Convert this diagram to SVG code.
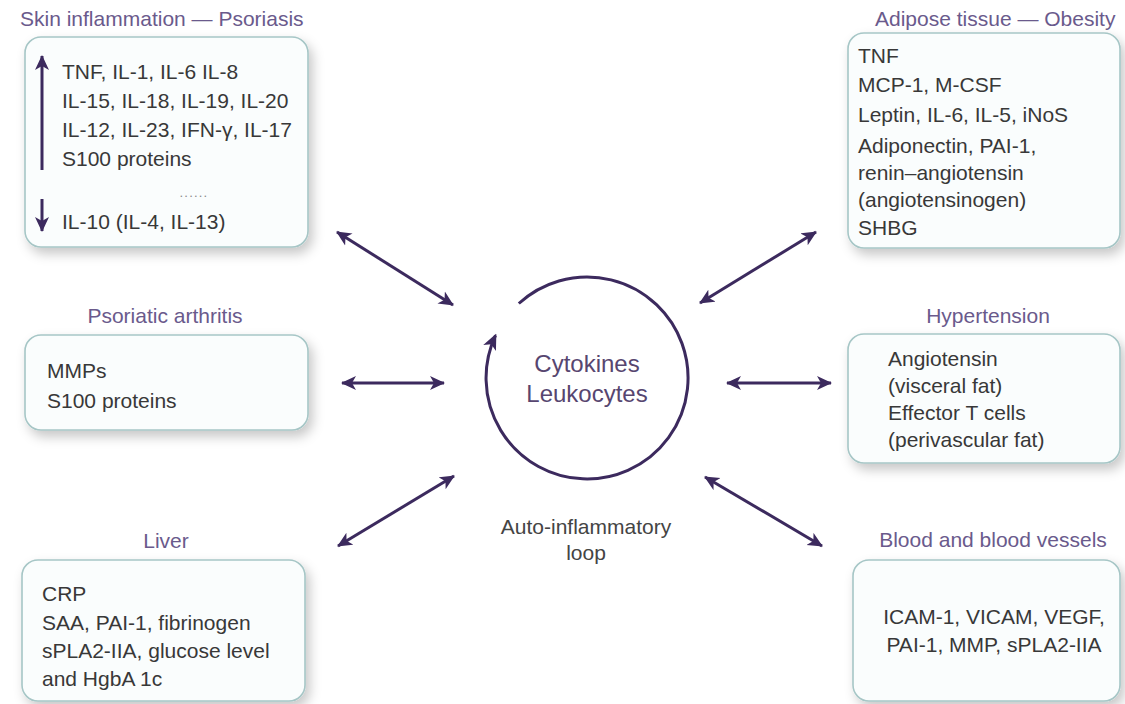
<svg xmlns="http://www.w3.org/2000/svg" width="1125" height="704" viewBox="0 0 1125 704">
<defs>
<style>
.box{fill:#fafdfd;stroke:#a6c6c6;stroke-width:1.6;filter:url(#sh)}
.title{font-family:"Liberation Sans",Arial,sans-serif;font-size:21px;fill:#6a5a8c}
.body{font-family:"Liberation Sans",Arial,sans-serif;font-size:21px;fill:#383838}
.center{font-family:"Liberation Sans",Arial,sans-serif;font-size:24px;fill:#574670}
.loop{font-family:"Liberation Sans",Arial,sans-serif;font-size:21px;fill:#444}
.conn{stroke:#3c2a5e;stroke-width:3;fill:none;marker-start:url(#ah);marker-end:url(#ah)}
.one{stroke:#3c2a5e;stroke-width:3;fill:none;marker-end:url(#ah)}
</style>
<filter id="sh" x="-10%" y="-10%" width="125%" height="135%">
<feDropShadow dx="4" dy="6" stdDeviation="6" flood-color="#000" flood-opacity="0.22"/>
</filter>
<marker id="ah" viewBox="0 0 15 15" refX="14" refY="7.5" markerWidth="15" markerHeight="15" markerUnits="userSpaceOnUse" orient="auto-start-reverse">
<path d="M0,0.5 L15,7.5 L0,14.5 L4,7.5 z" fill="#3c2a5e"/>
</marker>
<marker id="ah2" viewBox="0 0 16 16" refX="14" refY="8" markerWidth="16" markerHeight="16" markerUnits="userSpaceOnUse" orient="auto">
<path d="M0,1 L16,8 L0,15 L4,8 z" fill="#3c2a5e"/>
</marker>
</defs>
<rect width="1125" height="704" fill="#ffffff"/>

<g id="skin">
<text class="title" x="20" y="26">Skin inflammation — Psoriasis</text>
<rect class="box" x="25" y="37" width="283" height="210" rx="16"/>
<line class="one" x1="42" y1="170" x2="42" y2="56"/>
<line class="one" x1="42" y1="199" x2="42" y2="231"/>
<text class="body" x="62" y="79">TNF, IL-1, IL-6 IL-8</text>
<text class="body" x="62" y="108">IL-15, IL-18, IL-19, IL-20</text>
<text class="body" x="62" y="137">IL-12, IL-23, IFN-γ, IL-17</text>
<text class="body" x="62" y="166">S100 proteins</text>
<text x="194" y="197" text-anchor="middle" font-family="Liberation Sans, Arial, sans-serif" font-size="13" letter-spacing="1.2" fill="#888">......</text>
<text class="body" x="62" y="229">IL-10 (IL-4, IL-13)</text>
</g>

<g id="adipose">
<text class="title" x="875" y="26">Adipose tissue — Obesity</text>
<rect class="box" x="848" y="33" width="272" height="215" rx="16"/>
<text class="body" x="858" y="63">TNF</text>
<text class="body" x="858" y="92">MCP-1, M-CSF</text>
<text class="body" x="858" y="122">Leptin, IL-6, IL-5, iNoS</text>
<text class="body" x="858" y="153">Adiponectin, PAI-1,</text>
<text class="body" x="858" y="180">renin–angiotensin</text>
<text class="body" x="858" y="207">(angiotensinogen)</text>
<text class="body" x="858" y="235">SHBG</text>
</g>

<g id="arthritis">
<text class="title" x="165" y="323" text-anchor="middle">Psoriatic arthritis</text>
<rect class="box" x="25" y="335" width="283" height="95" rx="16"/>
<text class="body" x="47" y="378">MMPs</text>
<text class="body" x="47" y="408">S100 proteins</text>
</g>

<g id="hypertension">
<text class="title" x="988" y="323" text-anchor="middle">Hypertension</text>
<rect class="box" x="848" y="334" width="272" height="129" rx="16"/>
<text class="body" x="888" y="366">Angiotensin</text>
<text class="body" x="888" y="393">(visceral fat)</text>
<text class="body" x="888" y="420">Effector T cells</text>
<text class="body" x="888" y="447">(perivascular fat)</text>
</g>

<g id="liver">
<text class="title" x="166" y="548" text-anchor="middle">Liver</text>
<rect class="box" x="22" y="560" width="283" height="141" rx="16"/>
<text class="body" x="42" y="601">CRP</text>
<text class="body" x="42" y="630">SAA, PAI-1, fibrinogen</text>
<text class="body" x="42" y="658">sPLA2-IIA, glucose level</text>
<text class="body" x="42" y="686">and HgbA 1c</text>
</g>

<g id="blood">
<text class="title" x="993" y="547" text-anchor="middle">Blood and blood vessels</text>
<rect class="box" x="853" y="560" width="267" height="141" rx="16"/>
<text class="body" x="994" y="624" text-anchor="middle">ICAM-1, VICAM, VEGF,</text>
<text class="body" x="994" y="652" text-anchor="middle">PAI-1, MMP, sPLA2-IIA</text>
</g>

<g id="loop">
<path d="M518.8,303.5 A101,101 0 1 1 495.5,335.3" fill="none" stroke="#3c2a5e" stroke-width="3" marker-end="url(#ah2)"/>
<text class="center" x="587" y="372" text-anchor="middle">Cytokines</text>
<text class="center" x="587" y="402" text-anchor="middle">Leukocytes</text>
<text class="loop" x="586" y="534" text-anchor="middle">Auto-inflammatory</text>
<text class="loop" x="586" y="560" text-anchor="middle">loop</text>
</g>

<g id="connectors">
<line class="conn" x1="337" y1="232" x2="453" y2="305"/>
<line class="conn" x1="342" y1="383" x2="444" y2="383"/>
<line class="conn" x1="338" y1="546" x2="454" y2="476"/>
<line class="conn" x1="700" y1="303" x2="816" y2="232"/>
<line class="conn" x1="727" y1="383" x2="831" y2="383"/>
<line class="conn" x1="705" y1="477" x2="822" y2="546"/>
</g>
</svg>
